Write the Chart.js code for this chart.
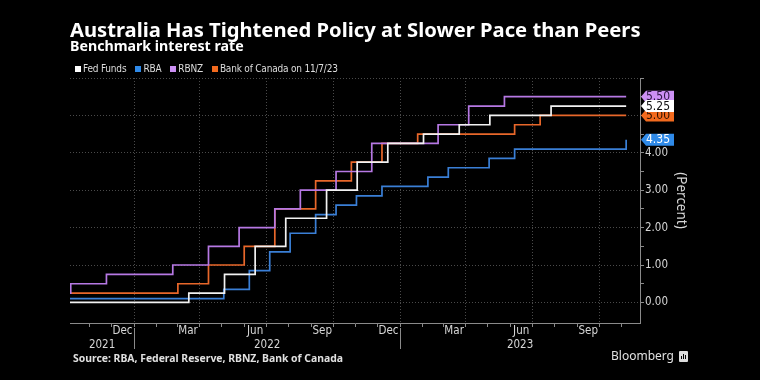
<!DOCTYPE html>
<html>
<head>
<meta charset="utf-8">
<script src="https://cdn.jsdelivr.net/npm/chart.js@4.4.0/dist/chart.umd.min.js"></script>
<style>
  html, body { margin: 0; padding: 0; background: #000; }
  #wrap { position: relative; width: 760px; height: 380px; overflow: hidden; background: #000; }
  #chart { position: absolute; left: 0; top: 0; }
  .txt { position: absolute; white-space: nowrap; }
  #title { left: 70px; top: 19px; color: #fff; font: 700 20.2px/20px 'Noto Sans', sans-serif; }
  #subtitle { left: 70px; top: 39px; color: #fff; font: 700 14.2px/14px 'Noto Sans', sans-serif; }
  #legend { left: 75px; top: 63px; display: flex; align-items: center; color: #ddd; letter-spacing: -0.2px;
            font: 10px/12px 'DejaVu Sans Condensed', 'Liberation Sans Narrow', sans-serif; }
  #legend .sq { width: 6px; height: 6px; margin-right: 2px; display: inline-block; }
  #legend .it { display: flex; align-items: center; margin-right: 9px; }
  #source { left: 73px; top: 353px; color: #e0e0e0; font: 700 10.4px/10px 'Noto Sans', sans-serif; }
  #logo { left: 611px; top: 349px; color: #e0e0e0; font: 12px/14px 'Noto Sans', sans-serif; display: flex; align-items: center; }
  #logo .ic { width: 9px; height: 11px; background: #ddd; border-radius: 1px; margin-left: 5px; position: relative; }
  #logo .ic i { position: absolute; bottom: 3px; width: 1px; background: #000; }
</style>
</head>
<body>
<div id="wrap">
  <canvas id="chart" width="760" height="380"></canvas>
  <div class="txt" id="title">Australia Has Tightened Policy at Slower Pace than Peers</div>
  <div class="txt" id="subtitle">Benchmark interest rate</div>
  <div class="txt" id="legend"></div>
  <div class="txt" id="source">Source: RBA, Federal Reserve, RBNZ, Bank of Canada</div>
  <div class="txt" id="logo">Bloomberg<span class="ic"><i style="left:2px;height:3px"></i><i style="left:4px;height:5px"></i><i style="left:6px;height:4px"></i></span></div>
</div>
<script>
// policy rates, each point = date the new rate took effect
const fedDates = ['2021-10-05', '2022-03-17', '2022-05-05', '2022-06-16', '2022-07-28', '2022-09-22', '2022-11-03', '2022-12-15', '2023-02-02', '2023-03-23', '2023-05-04', '2023-07-27', '2023-11-07'];
const fedRates = [0, 0.25, 0.75, 1.5, 2.25, 3.0, 3.75, 4.25, 4.5, 4.75, 5.0, 5.25, 5.25];

const rbaDates = ['2021-10-05', '2022-05-04', '2022-06-08', '2022-07-06', '2022-08-03', '2022-09-07', '2022-10-05', '2022-11-02', '2022-12-07', '2023-02-08', '2023-03-08', '2023-05-03', '2023-06-07', '2023-11-07'];
const rbaRates = [0.1, 0.35, 0.85, 1.35, 1.85, 2.35, 2.6, 2.85, 3.1, 3.35, 3.6, 3.85, 4.1, 4.35];

const rbnzDates = ['2021-10-05', '2021-10-06', '2021-11-24', '2022-02-23', '2022-04-13', '2022-05-25', '2022-07-13', '2022-08-17', '2022-10-05', '2022-11-23', '2023-02-22', '2023-04-05', '2023-05-24', '2023-11-07'];
const rbnzRates = [0.25, 0.5, 0.75, 1.0, 1.5, 2.0, 2.5, 3.0, 3.5, 4.25, 4.75, 5.25, 5.5, 5.5];

const bocDates = ['2021-10-05', '2022-03-02', '2022-04-13', '2022-06-01', '2022-07-13', '2022-09-07', '2022-10-26', '2022-12-07', '2023-01-25', '2023-06-07', '2023-07-12', '2023-11-07'];
const bocRates = [0.25, 0.5, 1.0, 1.5, 2.5, 3.25, 3.75, 4.25, 4.5, 4.75, 5.0, 5.0];

const seriesNames = ['Fed Funds', 'RBA', 'RBNZ', 'Bank of Canada on 11/7/23'];
const lineColors = ['#f2f2f2', '#3a7fd6', '#b678e4', '#e8672a'];
const tagColors = ['#ffffff', '#2f8ae8', '#cc90f4', '#f26a1e'];
const tagTextColors = ['#111', '#fff', '#2a1440', '#2a1000'];

const xStart = '2021-10-05';
const xEnd = '2023-11-26';
const monthLabelDates = ['2021-12-16', '2022-03-16', '2022-06-16', '2022-09-16', '2022-12-16', '2023-03-16', '2023-06-16', '2023-09-16'];
const monthLabels = ['Dec', 'Mar', 'Jun', 'Sep', 'Dec', 'Mar', 'Jun', 'Sep'];
const yearLabels = ['2021', '2022', '2023'];
const yTickValues = [0, 0.5, 1, 1.5, 2, 2.5, 3, 3.5, 4, 4.5, 5, 5.5, 6];
const yLabelled = [0, 1, 2, 3, 4];

const NARROW = "'DejaVu Sans Condensed', 'Liberation Sans Narrow', sans-serif";

const toPoints = (dates, vals) => dates.map((d, i) => ({ x: Date.parse(d), y: vals[i] }));
const allDates = [fedDates, rbaDates, rbnzDates, bocDates];
const allRates = [fedRates, rbaRates, rbnzRates, bocRates];

// legend
const legendEl = document.getElementById('legend');
seriesNames.forEach((name, i) => {
    const it = document.createElement('span');
    it.className = 'it';
    it.innerHTML = '<span class="sq" style="background:' + tagColors[i] + '"></span>' + name;
    legendEl.appendChild(it);
});

// month starts between the axis limits, used for tick marks and quarterly gridlines
const monthStarts = [];
{
    const d = new Date(Date.parse(xStart));
    d.setUTCDate(1);
    d.setUTCMonth(d.getUTCMonth() + 1);
    while (d.getTime() <= Date.parse(xEnd)) {
        monthStarts.push(d.getTime());
        d.setUTCMonth(d.getUTCMonth() + 1);
    }
}

const axisDecor = {
    id: 'axisDecor',
    afterDraw(chart) {
        const { ctx, chartArea } = chart;
        const x = chart.scales.x;
        const y = chart.scales.y;
        ctx.save();
        ctx.fillStyle = '#d6d6d6';
        ctx.textAlign = 'center';
        ctx.textBaseline = 'middle';
        ctx.font = '11.5px ' + NARROW;
        monthLabelDates.forEach((d, i) => {
            ctx.fillText(monthLabels[i], x.getPixelForValue(Date.parse(d)), chartArea.bottom + 8);
        });
        // year labels centred on the visible part of each year, separators at Jan 1
        yearLabels.forEach((yr) => {
            const a = Math.max(Date.parse(yr + '-01-01'), x.min);
            const b = Math.min(Date.parse((+yr + 1) + '-01-01'), x.max);
            ctx.fillText(yr, (x.getPixelForValue(a) + x.getPixelForValue(b)) / 2, chartArea.bottom + 22);
            const jan = Date.parse(yr + '-01-01');
            if (jan > x.min) {
                const px = Math.round(x.getPixelForValue(jan)) + 0.5;
                ctx.strokeStyle = '#8a8a8a';
                ctx.lineWidth = 1;
                ctx.beginPath();
                ctx.moveTo(px, chartArea.bottom + 5);
                ctx.lineTo(px, chartArea.bottom + 26);
                ctx.stroke();
            }
        });

        // last-value tags on the right axis; white drawn last so it sits on top
        const order = [2, 3, 1, 0];
        ctx.font = '12px ' + NARROW;
        order.forEach((i) => {
            const r = allRates[i];
            const v = r[r.length - 1];
            const py = y.getPixelForValue(v);
            const x0 = chartArea.right + 1;
            ctx.fillStyle = tagColors[i];
            ctx.beginPath();
            ctx.moveTo(x0, py);
            ctx.lineTo(x0 + 5, py - 6);
            ctx.lineTo(x0 + 33, py - 6);
            ctx.lineTo(x0 + 33, py + 6);
            ctx.lineTo(x0 + 5, py + 6);
            ctx.closePath();
            ctx.fill();
            ctx.fillStyle = tagTextColors[i];
            ctx.textAlign = 'left';
            ctx.fillText(v.toFixed(2), x0 + 5, py + 0.5);
        });
        ctx.restore();
    }
};

new Chart(document.getElementById('chart'), {
    type: 'line',
    data: {
        datasets: seriesNames.map((name, i) => ({
            label: name,
            data: toPoints(allDates[i], allRates[i]),
            borderColor: lineColors[i],
            backgroundColor: lineColors[i],
            borderWidth: 1.7,
            pointRadius: 0,
            stepped: true,
            fill: false
        }))
    },
    options: {
        responsive: false,
        animation: false,
        events: [],
        layout: { padding: { left: 70, top: 78, right: 67, bottom: 57 } },
        plugins: {
            legend: { display: false },
            title: { display: false },
            tooltip: { enabled: false }
        },
        scales: {
            x: {
                type: 'linear',
                min: Date.parse(xStart),
                max: Date.parse(xEnd),
                afterBuildTicks: (scale) => { scale.ticks = monthStarts.map(v => ({ value: v })); },
                afterFit: (scale) => { scale.height = 0; },
                ticks: { display: false },
                grid: {
                    color: (c) => (c.tick && new Date(c.tick.value).getUTCMonth() % 3 === 0) ? '#4a4a4a' : 'rgba(0,0,0,0)',
                    tickColor: '#8a8a8a',
                    tickLength: 4,
                    lineWidth: 1
                },
                border: { color: '#8a8a8a', width: 1, dash: [1, 2] }
            },
            y: {
                position: 'right',
                min: -0.55,
                max: 6,
                afterBuildTicks: (scale) => { scale.ticks = yTickValues.map(v => ({ value: v })); },
                afterFit: (scale) => { scale.width = 53; },
                ticks: {
                    color: '#d6d6d6',
                    padding: 1,
                    font: { family: NARROW, size: 11.5 },
                    callback: (v) => yLabelled.includes(v) ? v.toFixed(2) : ''
                },
                grid: {
                    color: (c) => (c.tick && Number.isInteger(c.tick.value)) ? '#4a4a4a' : 'rgba(0,0,0,0)',
                    tickColor: '#8a8a8a',
                    tickLength: 4
                },
                border: { color: '#8a8a8a', width: 1, dash: [1, 2] },
                title: {
                    display: true,
                    text: '(Percent)',
                    color: '#d6d6d6',
                    font: { family: "'Noto Sans', sans-serif", size: 13.5 }
                }
            }
        }
    },
    plugins: [axisDecor]
});
</script>
</body>
</html>
